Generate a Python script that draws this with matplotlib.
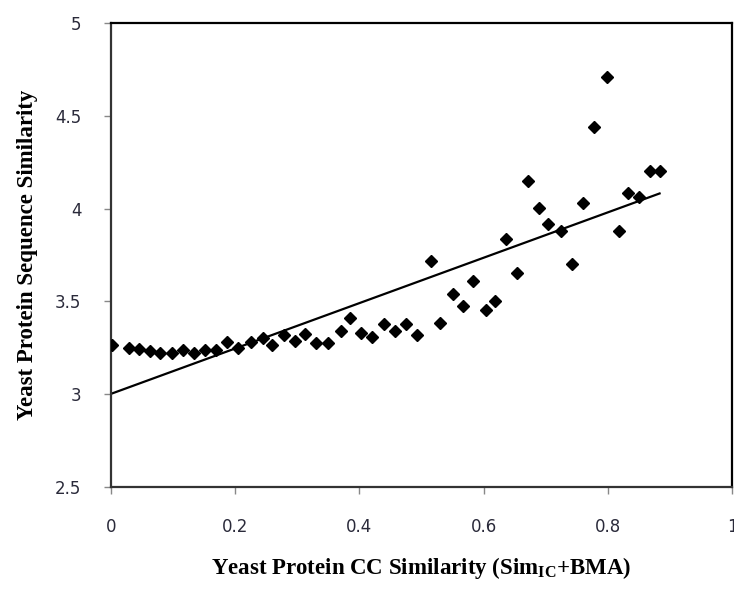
import matplotlib
matplotlib.use("Agg")
import matplotlib.pyplot as plt
import numpy as np
from matplotlib.ticker import FuncFormatter

# CC similarity (x) vs sequence similarity (y)
cc_sim = [0.002, 0.030, 0.046, 0.063, 0.080, 0.098, 0.116, 0.134, 0.152, 0.170,
          0.187, 0.205, 0.225, 0.245, 0.260, 0.279, 0.296, 0.313, 0.331, 0.350,
          0.370, 0.385, 0.403, 0.421, 0.439, 0.458, 0.475, 0.493, 0.515, 0.530,
          0.551, 0.567, 0.583, 0.604, 0.618, 0.636, 0.653, 0.672, 0.689, 0.704,
          0.724, 0.742, 0.760, 0.778, 0.799, 0.817, 0.832, 0.850, 0.867, 0.883]
seq_sim = [3.265, 3.247, 3.242, 3.234, 3.220, 3.220, 3.238, 3.224, 3.238, 3.238,
           3.283, 3.247, 3.283, 3.301, 3.265, 3.319, 3.288, 3.326, 3.276, 3.277,
           3.342, 3.409, 3.331, 3.307, 3.378, 3.342, 3.378, 3.319, 3.718, 3.382,
           3.538, 3.476, 3.612, 3.455, 3.503, 3.835, 3.651, 4.149, 4.001, 3.917,
           3.881, 3.702, 4.032, 4.441, 4.707, 3.879, 4.086, 4.064, 4.203, 4.203]

x_ticks = [0, 0.2, 0.4, 0.6, 0.8, 1]
y_ticks = [2.5, 3, 3.5, 4, 4.5, 5]

plt.rcParams['mathtext.fontset'] = 'custom'
plt.rcParams['mathtext.rm'] = 'Liberation Serif:bold'
plt.rcParams['mathtext.bf'] = 'Liberation Serif:bold'

fig = plt.figure(figsize=(7.34, 5.91), dpi=100)
ax = fig.add_axes([0.1508, 0.176, 0.8469, 0.785])

x = np.array(cc_sim)
y = np.array(seq_sim)

# linear trend line over the data range
slope, icpt = np.polyfit(x, y, 1)
xs = np.array([0, x.max()])
ax.plot(xs, icpt + slope * xs, color='black', lw=1.6, zorder=2)

ax.plot(x, y, linestyle='none', marker='D', markersize=6.2,
        color='black', zorder=3)

ax.set_xlim(0, 1)
ax.set_ylim(2.5, 5)
ax.set_xticks(x_ticks)
ax.set_yticks(y_ticks)
fmt = FuncFormatter(lambda v, p: f"{v:g}")
ax.xaxis.set_major_formatter(fmt)
ax.yaxis.set_major_formatter(fmt)

for s in ax.spines.values():
    s.set_linewidth(1.6)
    s.set_color('black')
ax.spines['left'].set_color('#333333')
ax.spines['bottom'].set_color('#333333')

ax.tick_params(direction='out', length=5, width=1, color='#888888',
               labelsize=12, labelcolor='#2a2a3a')
ax.tick_params(axis='x', pad=17)
ax.tick_params(axis='y', pad=16)
ax.tick_params(top=False, right=False)

ax.set_xlabel('Yeast Protein CC Similarity (Sim$_{\\mathrm{IC}}$+BMA)',
              family='Liberation Serif', fontweight='bold', fontsize=16.5,
              labelpad=14)
ax.set_ylabel('Yeast Protein Sequence Similarity',
              family='Liberation Serif', fontweight='bold', fontsize=16.5,
              labelpad=12)

fig.savefig('out.png', dpi=100)
